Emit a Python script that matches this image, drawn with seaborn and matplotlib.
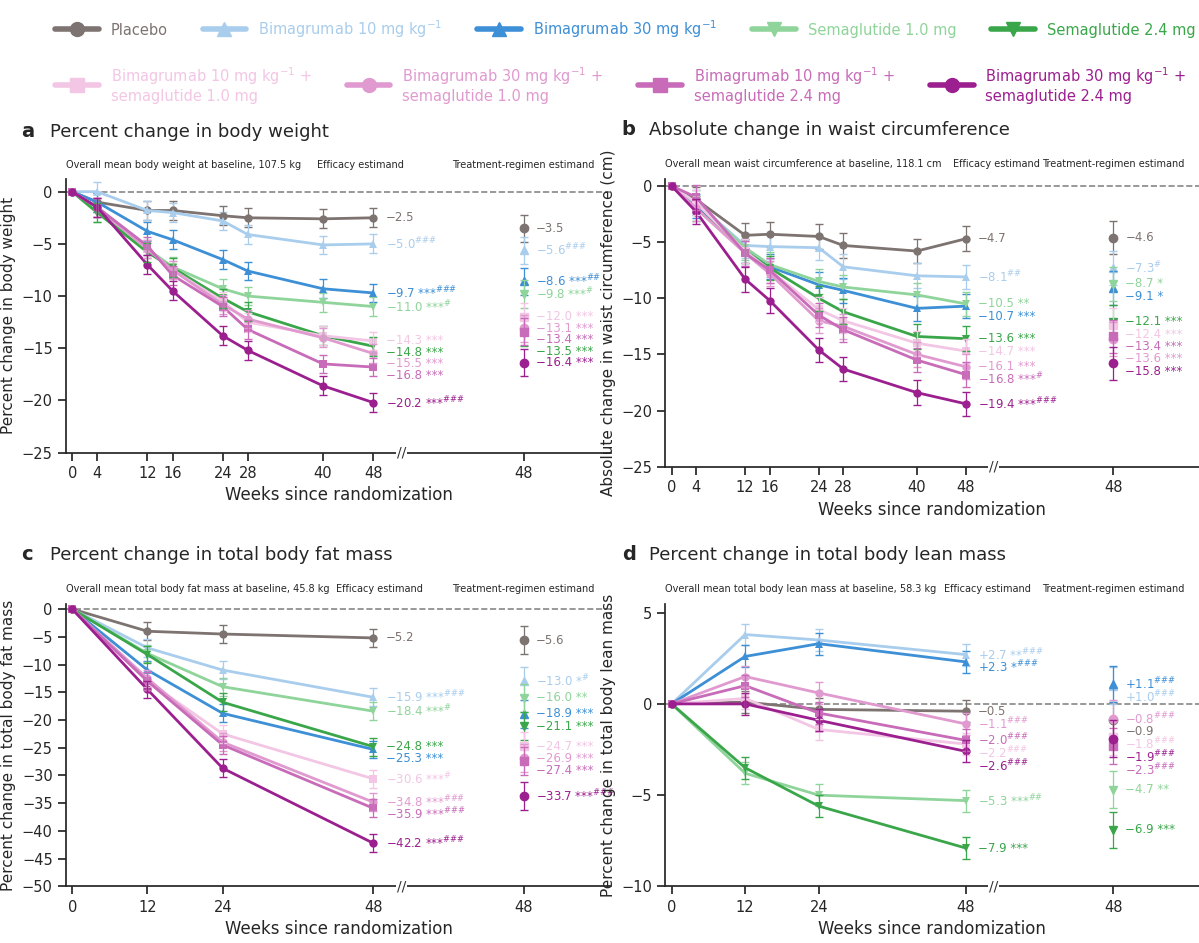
import numpy as np
import pandas as pd
import matplotlib
matplotlib.use("Agg")
import matplotlib.pyplot as plt
import seaborn as sns
from matplotlib.lines import Line2D

sns.set_theme(style="ticks")
plt.rcParams["font.family"] = "DejaVu Sans"

groups = ["Placebo", "B10", "B30", "S1", "S24", "B10S1", "B30S1", "B10S24", "B30S24"]
legend_names = ["Placebo", "Bimagrumab 10 mg kg$^{-1}$", "Bimagrumab 30 mg kg$^{-1}$",
                "Semaglutide 1.0 mg", "Semaglutide 2.4 mg",
                "Bimagrumab 10 mg kg$^{-1}$ +\nsemaglutide 1.0 mg",
                "Bimagrumab 30 mg kg$^{-1}$ +\nsemaglutide 1.0 mg",
                "Bimagrumab 10 mg kg$^{-1}$ +\nsemaglutide 2.4 mg",
                "Bimagrumab 30 mg kg$^{-1}$ +\nsemaglutide 2.4 mg"]
colors = ["#7d7370", "#a9cdec", "#3d8fd6", "#8fd49a", "#3aa64a",
          "#f2c6e4", "#e09ad0", "#c86bb8", "#9c1f8f"]
markers = ["o", "^", "^", "v", "v", "s", "o", "s", "o"]

weeks_long = [0, 4, 12, 16, 24, 28, 40, 48]
weeks_short = [0, 12, 24, 48]

# panel a: percent change in body weight
a_vals = [
    [0, -1.0, -1.8, -1.8, -2.3, -2.5, -2.6, -2.5],
    [0, 0.0, -1.8, -2.0, -2.8, -4.1, -5.1, -5.0],
    [0, -1.0, -3.8, -4.6, -6.5, -7.6, -9.3, -9.7],
    [0, -2.0, -5.5, -7.2, -9.3, -10.0, -10.6, -11.0],
    [0, -2.0, -5.8, -7.3, -10.2, -11.5, -13.8, -14.8],
    [0, -1.5, -5.5, -7.5, -10.5, -12.5, -13.8, -14.3],
    [0, -1.5, -5.5, -7.5, -10.8, -12.2, -14.0, -15.5],
    [0, -1.5, -5.2, -8.0, -11.0, -13.2, -16.5, -16.8],
    [0, -1.5, -7.0, -9.5, -13.8, -15.2, -18.6, -20.2],
]
a_err = [0.9, 0.9, 0.9, 0.9, 0.9, 0.9, 0.9, 0.9, 0.9]
a_tr = [-3.5, -5.6, -8.6, -9.8, -13.5, -12.0, -13.1, -13.4, -16.4]
a_tr_err = [1.3, 1.3, 1.3, 1.3, 1.3, 1.3, 1.3, 1.3, 1.3]
a_lab = ["−2.5", "−5.0$^{\\#\\#\\#}$", "−9.7 ***$^{\\#\\#\\#}$", "−11.0 ***$^{\\#}$", "−14.8 ***",
         "−14.3 ***", "−15.5 ***", "−16.8 ***", "−20.2 ***$^{\\#\\#\\#}$"]
a_tr_lab = ["−3.5", "−5.6$^{\\#\\#\\#}$", "−8.6 ***$^{\\#\\#}$", "−9.8 ***$^{\\#}$", "−13.5 ***",
            "−12.0 ***", "−13.1 ***", "−13.4 ***", "−16.4 ***"]

# panel b: waist circumference
b_vals = [
    [0, -1.2, -4.4, -4.3, -4.5, -5.3, -5.8, -4.7],
    [0, -1.5, -5.3, -5.4, -5.5, -7.2, -8.0, -8.1],
    [0, -1.8, -5.8, -7.2, -8.8, -9.3, -10.9, -10.7],
    [0, -1.5, -5.5, -7.0, -8.5, -9.0, -9.7, -10.5],
    [0, -2.0, -5.8, -7.3, -10.0, -11.2, -13.4, -13.6],
    [0, -1.5, -5.8, -7.5, -11.0, -12.0, -14.0, -14.7],
    [0, -2.0, -6.0, -7.8, -12.0, -12.5, -15.0, -16.1],
    [0, -1.0, -6.0, -7.5, -11.5, -12.8, -15.5, -16.8],
    [0, -2.3, -8.3, -10.2, -14.6, -16.3, -18.4, -19.4],
]
b_err = [1.1, 1.1, 1.1, 1.1, 1.1, 1.1, 1.1, 1.1, 1.1]
b_tr = [-4.6, -7.3, -9.1, -8.7, -12.1, -12.4, -13.6, -13.4, -15.8]
b_tr_err = [1.5, 1.5, 1.5, 1.5, 1.5, 1.5, 1.5, 1.5, 1.5]
b_lab = ["−4.7", "−8.1$^{\\#\\#}$", "−10.7 ***", "−10.5 **", "−13.6 ***",
         "−14.7 ***", "−16.1 ***", "−16.8 ***$^{\\#}$", "−19.4 ***$^{\\#\\#\\#}$"]
b_tr_lab = ["−4.6", "−7.3$^{\\#}$", "−9.1 *", "−8.7 *", "−12.1 ***",
            "−12.4 ***", "−13.6 ***", "−13.4 ***", "−15.8 ***"]

# panel c: total body fat mass
c_vals = [
    [0, -4.0, -4.5, -5.2],
    [0, -7.0, -11.0, -15.9],
    [0, -11.0, -18.8, -25.3],
    [0, -8.0, -14.0, -18.4],
    [0, -8.2, -16.8, -24.8],
    [0, -13.0, -22.5, -30.6],
    [0, -12.5, -24.0, -34.8],
    [0, -13.0, -24.5, -35.9],
    [0, -14.5, -28.7, -42.2],
]
c_err = [1.6, 1.6, 1.6, 1.6, 1.6, 1.6, 1.6, 1.6, 1.6]
c_tr = [-5.6, -13.0, -18.9, -16.0, -21.1, -24.7, -26.9, -27.4, -33.7]
c_tr_err = [2.5, 2.5, 2.5, 2.5, 2.5, 2.5, 2.5, 2.5, 2.5]
c_lab = ["−5.2", "−15.9 ***$^{\\#\\#\\#}$", "−25.3 ***", "−18.4 ***$^{\\#}$", "−24.8 ***",
         "−30.6 ***$^{\\#}$", "−34.8 ***$^{\\#\\#\\#}$", "−35.9 ***$^{\\#\\#\\#}$", "−42.2 ***$^{\\#\\#\\#}$"]
c_tr_lab = ["−5.6", "−13.0 *$^{\\#}$", "−18.9 ***", "−16.0 **", "−21.1 ***",
            "−24.7 ***", "−26.9 ***", "−27.4 ***", "−33.7 ***$^{\\#\\#\\#}$"]

# panel d: total body lean mass
d_vals = [
    [0, 0.1, -0.3, -0.4],
    [0, 3.8, 3.5, 2.7],
    [0, 2.6, 3.3, 2.3],
    [0, -3.8, -5.0, -5.3],
    [0, -3.5, -5.6, -7.9],
    [0, 0.3, -1.4, -2.2],
    [0, 1.5, 0.6, -1.1],
    [0, 1.0, -0.5, -2.0],
    [0, 0.0, -0.9, -2.6],
]
d_err = [0.6, 0.6, 0.6, 0.6, 0.6, 0.6, 0.6, 0.6, 0.6]
d_tr = [-0.9, 1.0, 1.1, -4.7, -6.9, -1.8, -0.8, -2.3, -1.9]
d_tr_err = [1.0, 1.0, 1.0, 1.0, 1.0, 1.0, 1.0, 1.0, 1.0]
d_lab = ["−0.5", "+2.7 **$^{\\#\\#\\#}$", "+2.3 *$^{\\#\\#\\#}$", "−5.3 ***$^{\\#\\#}$", "−7.9 ***",
         "−2.2$^{\\#\\#\\#}$", "−1.1$^{\\#\\#\\#}$", "−2.0$^{\\#\\#\\#}$", "−2.6$^{\\#\\#\\#}$"]
d_tr_lab = ["−0.9", "+1.0$^{\\#\\#\\#}$", "+1.1$^{\\#\\#\\#}$", "−4.7 **", "−6.9 ***",
            "−1.8$^{\\#\\#\\#}$", "−0.8$^{\\#\\#\\#}$", "−2.3$^{\\#\\#\\#}$", "−1.9$^{\\#\\#\\#}$"]

TR_X = 72  # plotting position of the treatment-regimen column


def spread(ys, gap):
    # push labels apart so they don't overlap
    order = np.argsort(ys)[::-1]
    out = np.array(ys, dtype=float)
    for i in range(1, len(order)):
        prev, cur = order[i - 1], order[i]
        if out[prev] - out[cur] < gap:
            out[cur] = out[prev] - gap
    return out


def draw_panel(ax, weeks, vals, err, tr, tr_err, lab, tr_lab, ylim, yticks, ylabel,
               letter, title, baseline, gap, eff_x):
    rows = []
    for g, v in zip(groups, vals):
        for w, y in zip(weeks, v):
            rows.append({"group": g, "week": w, "value": y})
    df = pd.DataFrame(rows)
    ax.axhline(0, color="#888888", ls="--", lw=1.2, zorder=0)
    for i, g in enumerate(groups):
        sub = df[df.group == g]
        ax.errorbar(sub.week[1:], sub.value[1:], yerr=err[i], fmt="none",
                    ecolor=colors[i], elinewidth=0.9, capsize=3, zorder=2 + i)
        ax.errorbar([TR_X], [tr[i]], yerr=tr_err[i], fmt="none",
                    ecolor=colors[i], elinewidth=0.9, capsize=3, zorder=2 + i)
        ax.plot([TR_X], [tr[i]], marker=markers[i], color=colors[i], ms=6, ls="none",
                zorder=3 + i)
    sns.lineplot(data=df, x="week", y="value", hue="group", hue_order=groups,
                 palette=colors, style="group", style_order=groups,
                 markers=markers, dashes=False, markersize=6, markeredgewidth=0,
                 linewidth=2, legend=False, ax=ax, zorder=5)
    end = [v[-1] for v in vals]
    ly = spread(end, gap)
    for i in range(len(groups)):
        ax.text(50, ly[i], lab[i], color=colors[i], fontsize=8.5, va="center")
    ty = spread(tr, gap)
    for i in range(len(groups)):
        ax.text(TR_X + 2, ty[i], tr_lab[i], color=colors[i], fontsize=8.5, va="center")

    ax.set_xlim(-1, 86)
    ax.set_ylim(*ylim)
    ax.set_yticks(yticks)
    ax.set_xticks(weeks + [TR_X])
    ax.set_xticklabels([str(w) for w in weeks] + ["48"])
    ax.tick_params(labelsize=10.5)
    ax.set_xlabel("Weeks since randomization", fontsize=12)
    ax.set_ylabel(ylabel, fontsize=11)
    sns.despine(ax=ax)
    # axis break marks
    ax.text(52.5, 0, "//", transform=ax.get_xaxis_transform(), ha="center", va="center",
            fontsize=10, color="#333333", clip_on=False,
            bbox=dict(facecolor="white", edgecolor="none", pad=0.5))
    ax.text(0.0, 1.035, baseline, transform=ax.transAxes, fontsize=7, va="bottom")
    ax.text(eff_x, 1.035, "Efficacy estimand", transform=ax.get_xaxis_transform(),
            fontsize=7, ha="center", va="bottom")
    ax.text(TR_X, 1.035, "Treatment-regimen estimand", transform=ax.get_xaxis_transform(),
            fontsize=7, ha="center", va="bottom")
    ax.text(-0.082, 1.14, letter, transform=ax.transAxes, fontsize=14, fontweight="bold",
            va="bottom")
    ax.text(-0.03, 1.14, title, transform=ax.transAxes, fontsize=13, va="bottom")


fig = plt.figure(figsize=(11.99, 9.43), dpi=100)
ax_a = fig.add_axes([0.055, 0.52, 0.455, 0.29])
ax_b = fig.add_axes([0.555, 0.505, 0.445, 0.305])
ax_c = fig.add_axes([0.055, 0.06, 0.455, 0.30])
ax_d = fig.add_axes([0.555, 0.06, 0.445, 0.30])

draw_panel(ax_a, weeks_long, a_vals, a_err, a_tr, a_tr_err, a_lab, a_tr_lab,
           (-25, 1.2), [0, -5, -10, -15, -20, -25], "Percent change in body weight",
           "a", "Percent change in body weight",
           "Overall mean body weight at baseline, 107.5 kg", 1.1, 46)
draw_panel(ax_b, weeks_long, b_vals, b_err, b_tr, b_tr_err, b_lab, b_tr_lab,
           (-25, 0.6), [0, -5, -10, -15, -20, -25], "Absolute change in waist circumference (cm)",
           "b", "Absolute change in waist circumference",
           "Overall mean waist circumference at baseline, 118.1 cm", 1.1, 53)
draw_panel(ax_c, weeks_short, c_vals, c_err, c_tr, c_tr_err, c_lab, c_tr_lab,
           (-50, 1), list(range(0, -55, -5)), "Percent change in total body fat mass",
           "c", "Percent change in total body fat mass",
           "Overall mean total body fat mass at baseline, 45.8 kg", 2.2, 49)
draw_panel(ax_d, weeks_short, d_vals, d_err, d_tr, d_tr_err, d_lab, d_tr_lab,
           (-10, 5.5), [5, 0, -5, -10], "Percent change in total body lean mass",
           "d", "Percent change in total body lean mass",
           "Overall mean total body lean mass at baseline, 58.3 kg", 0.7, 51.5)

handles = [Line2D([0], [0], color=c, marker=m, lw=4, ms=10) for c, m in zip(colors, markers)]
leg1 = fig.legend(handles[:5], legend_names[:5], loc="upper left", ncol=5,
                  bbox_to_anchor=(0.035, 0.995), frameon=False, fontsize=10.5,
                  handlelength=3, columnspacing=2.4)
for t, c in zip(leg1.get_texts(), colors[:5]):
    t.set_color(c)
leg2 = fig.legend(handles[5:], legend_names[5:], loc="upper left", ncol=4,
                  bbox_to_anchor=(0.035, 0.945), frameon=False, fontsize=10.5,
                  handlelength=3, columnspacing=2.4)
for t, c in zip(leg2.get_texts(), colors[5:]):
    t.set_color(c)

fig.savefig("out.png", dpi=100)
